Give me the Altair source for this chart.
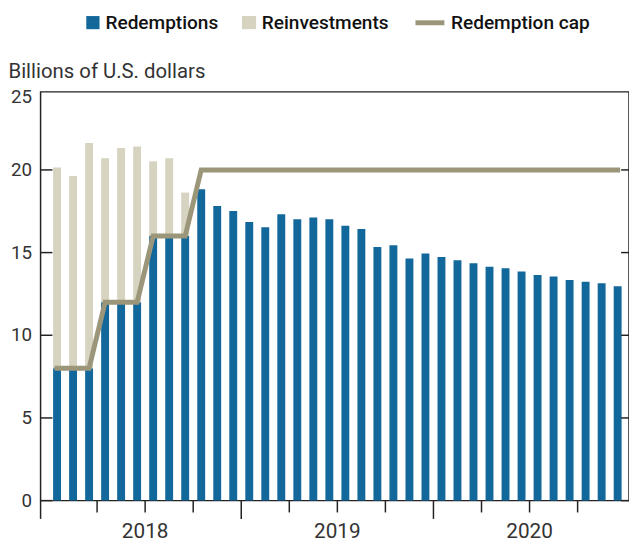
import altair as alt
import pandas as pd

months = [f"{y}-{m:02d}" for y in (2018, 2019, 2020) for m in range(1, 13)]

redemptions = [8, 8, 8, 12, 12, 12, 16, 16, 16,
               18.83, 17.82, 17.52, 16.85, 16.53, 17.32, 17.02, 17.12, 17.02,
               16.63, 16.43, 15.34, 15.44, 14.64, 14.94, 14.74, 14.54, 14.35,
               14.15, 14.05, 13.85, 13.65, 13.55, 13.35, 13.23, 13.15, 12.96]
reinvestments = [12.14, 11.64, 13.63, 8.71, 9.33, 9.41, 4.52, 4.71, 2.63,
                 0, 0, 0, 0, 0, 0, 0, 0, 0,
                 0, 0, 0, 0, 0, 0, 0, 0, 0,
                 0, 0, 0, 0, 0, 0, 0, 0, 0]
cap = [8, 8, 8, 12, 12, 12, 16, 16, 16,
       20, 20, 20, 20, 20, 20, 20, 20, 20,
       20, 20, 20, 20, 20, 20, 20, 20, 20,
       20, 20, 20, 20, 20, 20, 20, 20, 20]

years = ["2018", "2019", "2020"]
year_centers = [6, 18, 30]
year_bounds = [12, 24]
quarter_bounds = [3, 6, 9, 15, 18, 21, 27, 30, 33]
y_ticks = [0, 5, 10, 15, 20]
top_label = "25"

BLUE = "#12679b"
BEIGE = "#d6d3c1"
CAPC = "#9b9679"
AX = "#222222"
TXT = "#333333"
FONT = "Roboto"

W, H = 596, 414

rows = []
for i, m in enumerate(months):
    rows.append({"month": m, "mid": i + 0.5, "series": "Redemptions", "value": redemptions[i], "ord": 0})
    rows.append({"month": m, "mid": i + 0.5, "series": "Reinvestments", "value": reinvestments[i], "ord": 1})
bar_df = pd.DataFrame(rows)
cap_df = pd.DataFrame({"month": months, "mid": [i + 0.5 for i in range(len(months))], "cap": cap})

xscale = alt.Scale(domain=[-0.22, 35.9], nice=False, zero=False)
yscale = alt.Scale(domain=[0, 24.72], nice=False)

bars = alt.Chart(bar_df).mark_bar(width=8, orient="vertical").encode(
    x=alt.X("mid:Q", scale=xscale, axis=None),
    y=alt.Y("value:Q", stack="zero", scale=yscale, axis=None),
    color=alt.Color("series:N", scale=alt.Scale(domain=["Redemptions", "Reinvestments"],
                                                range=[BLUE, BEIGE]), legend=None),
    order=alt.Order("ord:Q"),
)

line = alt.Chart(cap_df).mark_line(color=CAPC, strokeWidth=5, strokeCap="square",
                                   strokeJoin="miter").encode(
    x=alt.X("mid:Q", scale=xscale, axis=None),
    y=alt.Y("cap:Q", scale=yscale, axis=None),
)

ytick_df = pd.DataFrame({"v": y_ticks})
left_ticks = alt.Chart(ytick_df).mark_rule(color=AX, strokeWidth=1.5).encode(
    y=alt.Y("v:Q", scale=yscale, axis=None), x=alt.value(0), x2=alt.value(12))
right_ticks = alt.Chart(ytick_df).mark_rule(color=AX, strokeWidth=1.5).encode(
    y=alt.Y("v:Q", scale=yscale, axis=None), x=alt.value(W - 8), x2=alt.value(W))
y_labels = alt.Chart(ytick_df).mark_text(fontSize=19, color=TXT, font=FONT, align="right",
                                         baseline="middle").encode(
    y=alt.Y("v:Q", scale=yscale, axis=None), x=alt.value(-8.7), text="v:Q")

one = pd.DataFrame({"d": [0]})
y_top_label = alt.Chart(one).mark_text(text=top_label, fontSize=19, color=TXT, font=FONT,
                                       align="right", baseline="middle").encode(
    x=alt.value(-8.7), y=alt.value(5))

q_ticks = alt.Chart(pd.DataFrame({"q": quarter_bounds})).mark_rule(color=AX, strokeWidth=1.5).encode(
    x=alt.X("q:Q", scale=xscale, axis=None), y=alt.value(H), y2=alt.value(H + 12))
yr_ticks = alt.Chart(pd.DataFrame({"b": year_bounds})).mark_rule(color=AX, strokeWidth=1.5).encode(
    x=alt.X("b:Q", scale=xscale, axis=None), y=alt.value(H), y2=alt.value(H + 18.5))

left_ext = alt.Chart(one).mark_rule(color=AX, strokeWidth=1.5).encode(
    x=alt.value(0), y=alt.value(H), y2=alt.value(H + 18.5))

year_labels = alt.Chart(pd.DataFrame({"year": years, "c": year_centers})).mark_text(
    fontSize=21, color=TXT, font=FONT, align="center", baseline="alphabetic").encode(
    x=alt.X("c:Q", scale=xscale, axis=None), y=alt.value(H + 37.7), text="year:N")

ytitle = alt.Chart(one).mark_text(text="Billions of U.S. dollars", fontSize=20.6, color=TXT,
                                  font=FONT, align="left", baseline="alphabetic").encode(
    x=alt.value(-32.5), y=alt.value(-14.5))

LF = 19.3
LT = -63.5
leg_items = []
leg_items.append(alt.Chart(one).mark_rect(color=BLUE).encode(
    x=alt.value(46.3), x2=alt.value(59.7), y=alt.value(-76.8), y2=alt.value(-63.5)))
leg_items.append(alt.Chart(one).mark_text(text="Redemptions", fontSize=LF, fontWeight=500,
                                          color="#111", font=FONT, align="left",
                                          baseline="alphabetic").encode(
    x=alt.value(65.7), y=alt.value(LT)))
leg_items.append(alt.Chart(one).mark_rect(color=BEIGE).encode(
    x=alt.value(204), x2=alt.value(218.3), y=alt.value(-76.8), y2=alt.value(-63.5)))
leg_items.append(alt.Chart(one).mark_text(text="Reinvestments", fontSize=LF, fontWeight=500,
                                          color="#111", font=FONT, align="left",
                                          baseline="alphabetic").encode(
    x=alt.value(224), y=alt.value(LT)))
leg_items.append(alt.Chart(one).mark_rule(color=CAPC, strokeWidth=5).encode(
    x=alt.value(379.7), x2=alt.value(409), y=alt.value(-70)))
leg_items.append(alt.Chart(one).mark_text(text="Redemption cap", fontSize=LF, fontWeight=500,
                                          color="#111", font=FONT, align="left",
                                          baseline="alphabetic").encode(
    x=alt.value(415.7), y=alt.value(LT)))

chart = alt.layer(
    bars, line, left_ticks, right_ticks, y_labels, y_top_label, q_ticks, yr_ticks, left_ext,
    year_labels, ytitle, *leg_items
).properties(
    width=W, height=H,
    autosize=alt.AutoSizeParams(type="none"),
    padding={"left": 33, "top": 81.5, "right": 0, "bottom": 42},
).configure_view(stroke=AX, strokeWidth=1.5)

chart.save("out.html", embed_options={"renderer": "svg", "actions": False})
